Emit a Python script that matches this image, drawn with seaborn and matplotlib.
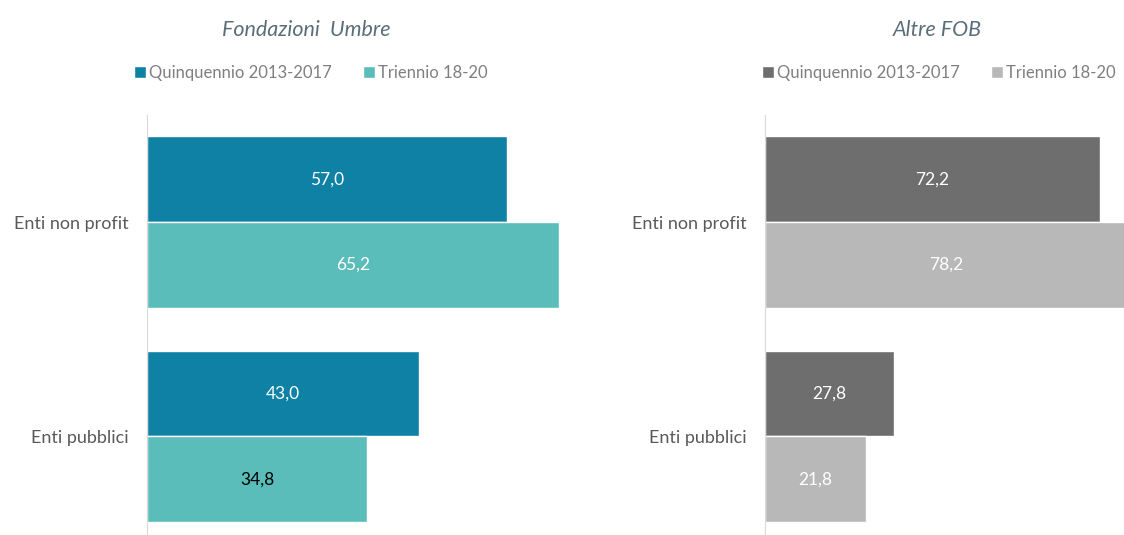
import matplotlib
matplotlib.use("Agg")
import matplotlib.pyplot as plt
import seaborn as sns
import pandas as pd

categories = ["Enti non profit", "Enti pubblici"]
periods = ["Quinquennio 2013-2017", "Triennio 18-20"]
umbre_quinq = [57.0, 43.0]
umbre_trien = [65.2, 34.8]
fob_quinq = [72.2, 27.8]
fob_trien = [78.2, 21.8]

sns.set_style("white")
plt.rcParams["font.family"] = ["Lato", "DejaVu Sans"]


def make_df(a, b):
    return pd.DataFrame({
        "cat": categories * 2,
        "period": [periods[0]] * 2 + [periods[1]] * 2,
        "val": a + b,
    })


fig = plt.figure(figsize=(11.24, 5.35), dpi=100)
ax1 = fig.add_axes([147 / 1124, 0, 443 / 1124, 420 / 535])
ax2 = fig.add_axes([765 / 1124, 0, 359 / 1124, 420 / 535])

# axes, data, colours, x range, title, title x, legend x, label colours
panels = [
    (ax1, make_df(umbre_quinq, umbre_trien), ["#0E81A5", "#5BBDB9"], (0, 70.1),
     "Fondazioni  Umbre", (306 - 147) / 443, (311 - 147) / 443,
     [["white", "white"], ["white", "black"]]),
    (ax2, make_df(fob_quinq, fob_trien), ["#6E6E6E", "#B8B8B8"], (0, 77.4),
     "Altre FOB", (937 - 765) / 359, (939 - 765) / 359,
     [["white", "white"], ["white", "white"]]),
]

for ax, df, pal, xlim, title, tx, lx, lcols in panels:
    sns.barplot(data=df, y="cat", x="val", hue="period", palette=pal,
                width=0.8, saturation=1, ax=ax, orient="h")
    ax.set_xlim(*xlim)
    ax.set_ylim(1.46, -0.5)
    for i, cont in enumerate(ax.containers):
        labels = [f"{v:.1f}".replace(".", ",") for v in cont.datavalues]
        for bar, lab, col in zip(cont, labels, [lcols[0][i], lcols[1][i]]):
            ax.text(bar.get_x() + bar.get_width() / 2,
                    bar.get_y() + bar.get_height() / 2, lab,
                    ha="center", va="center", color=col, fontsize=12.5)
    for b in ax.patches:
        b.set_clip_on(False)
    ax.set_xlabel("")
    ax.set_ylabel("")
    ax.set_xticks([])
    ax.tick_params(axis="y", length=0, pad=13, labelsize=13, labelcolor="#595959")
    for s in ["top", "right", "bottom"]:
        ax.spines[s].set_visible(False)
    ax.spines["left"].set_color("#D9D9D9")
    handles, labs = ax.get_legend_handles_labels()
    ax.legend(handles, labs, loc="center", bbox_to_anchor=(lx, 1.1),
              ncol=2, frameon=False, fontsize=12, handlelength=0.7,
              handleheight=0.7, handletextpad=0.2, columnspacing=1.9,
              labelcolor="#7F7F7F")
    ax.set_title(title, fontsize=15.5, style="italic", color="#5A6E7A",
                 x=tx, y=1.168)

fig.savefig("out.png", dpi=100)
